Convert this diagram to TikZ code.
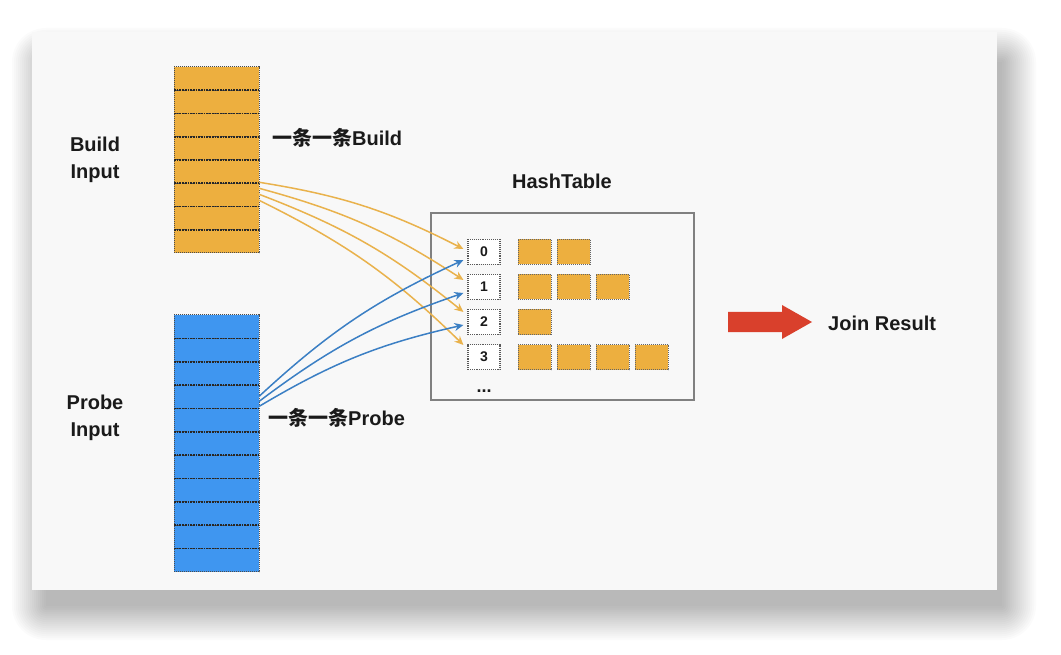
\documentclass[tikz,border=0pt]{standalone}
\usepackage{fontspec}
\setmainfont{Liberation Sans}
\newfontfamily\cjk{Noto Sans CJK SC}
\usetikzlibrary{arrows.meta}
\definecolor{orng}{HTML}{EDAF3F}
\definecolor{blu}{HTML}{3F96F0}
\definecolor{orline}{HTML}{E9B24C}
\definecolor{blline}{HTML}{3B7FC4}
\definecolor{panelc}{HTML}{F8F8F8}
\definecolor{arrred}{HTML}{D9402C}
\definecolor{txt}{HTML}{1A1A1A}
\begin{document}
\begin{tikzpicture}[x=1pt,y=-1pt,
  bigfont/.style={font=\fontsize{20}{27}\selectfont\bfseries, text=txt},
  bcell/.style={draw=black!70, densely dotted, line width=1pt, fill=orng, minimum width=85pt, minimum height=23.25pt, inner sep=0pt, outer sep=0pt},
  pcell/.style={draw=black!70, densely dotted, line width=1pt, fill=blu, minimum width=85pt, minimum height=23.36pt, inner sep=0pt, outer sep=0pt},
  sep/.style={draw=black!85, densely dotted, line width=1.7pt},
  idxbox/.style={draw=black!65, densely dotted, line width=1.1pt, fill=white, minimum width=32pt, minimum height=25pt, inner sep=0pt, font=\fontsize{14}{16}\selectfont\bfseries, text=txt},
  hcell/.style={draw=black!60, densely dotted, line width=1pt, fill=orng, minimum width=33pt, minimum height=25pt, inner sep=0pt},
  oarr/.style={draw=orline, line width=1.5pt, -{Stealth[length=9pt,width=8pt]}, bend left=9},
  barr/.style={draw=blline, line width=1.5pt, -{Stealth[length=9pt,width=8pt]}, bend left=9}
]
\useasboundingbox (0,0) rectangle (1061,655);
\fill[white] (0,0) rectangle (1061,655);
% soft shadow
\foreach \r in {0,2,...,34}{
  \fill[black, opacity=0.014, rounded corners=\r pt] ({46-\r},{62-\r}) rectangle ({1002+\r},{606+\r});
}
\fill[panelc] (32,32) rectangle (997,590);

% Build input column
\foreach \k in {1,...,8}{
  \node[bcell] (b\k) at (216.5,{67+23.25*(\k-0.5)}) {};
}
\foreach \k in {1,...,7}{
  \draw[sep] (b\k.south west) -- (b\k.south east);
}
% Probe input column
\foreach \k in {1,...,11}{
  \node[pcell] (p\k) at (216.5,{315+23.36*(\k-0.5)}) {};
}
\foreach \k in {1,...,10}{
  \draw[sep] (p\k.south west) -- (p\k.south east);
}

\node[bigfont, align=center] (buildlbl) at (95,160) {Build\\Input};
\node[bigfont, align=center] (probelbl) at (95,418) {Probe\\Input};

\node[bigfont, anchor=west, inner sep=0pt] (buildtxt) at (272,138) {{\cjk\bfseries 一条一条}Build};
\node[bigfont, anchor=west, inner sep=0pt] (probetxt) at (268,418) {{\cjk\bfseries 一条一条}Probe};

% Hash table
\node[bigfont] (htlbl) at (562,181) {HashTable};
\node[draw=black!50, line width=1.2pt, minimum width=263pt, minimum height=187pt, inner sep=0pt] (ht) at (562.5,306.5) {};

\foreach \k/\y in {0/252,1/287,2/322,3/357}{
  \node[idxbox] (i\k) at (484,\y) {\k};
}
\foreach \r/\n/\y in {0/2/252,1/3/287,2/1/322,3/4/357}{
  \foreach \c in {1,...,\n}{
    \node[hcell] (h\r\c) at ({534.5+39*(\c-1)},\y) {};
  }
}
\node[font=\fontsize{18}{18}\selectfont\bfseries, text=txt] (dots) at (484,391) {...};

% orange arrows
\draw[oarr] ([yshift=1pt]b6.north east) to ([xshift=-4pt,yshift=3pt]i0.west);
\draw[oarr] ([yshift=-5pt]b6.north east) to ([xshift=-4pt,yshift=7pt]i1.west);
\draw[oarr] ([yshift=-11pt]b6.north east) to ([xshift=-4pt,yshift=10pt]i2.west);
\draw[oarr] ([yshift=-17pt]b6.north east) to ([xshift=-4pt,yshift=12pt]i3.west);

% blue arrows
\draw[barr] ([yshift=12pt]p4.south east) to ([xshift=-4pt,yshift=-8pt]i0.west);
\draw[barr] ([yshift=7pt]p4.south east) to ([xshift=-4pt,yshift=-6pt]i1.west);
\draw[barr] ([yshift=2pt]p4.south east) to ([xshift=-4pt,yshift=-3pt]i2.west);

% red arrow
\fill[arrred] (728,312) -- (782,312) -- (782,305) -- (812,322) -- (782,339) -- (782,332) -- (728,332) -- cycle;
\node[bigfont, anchor=west, inner sep=0pt] (join) at (828,323) {Join Result};
\end{tikzpicture}
\end{document}
